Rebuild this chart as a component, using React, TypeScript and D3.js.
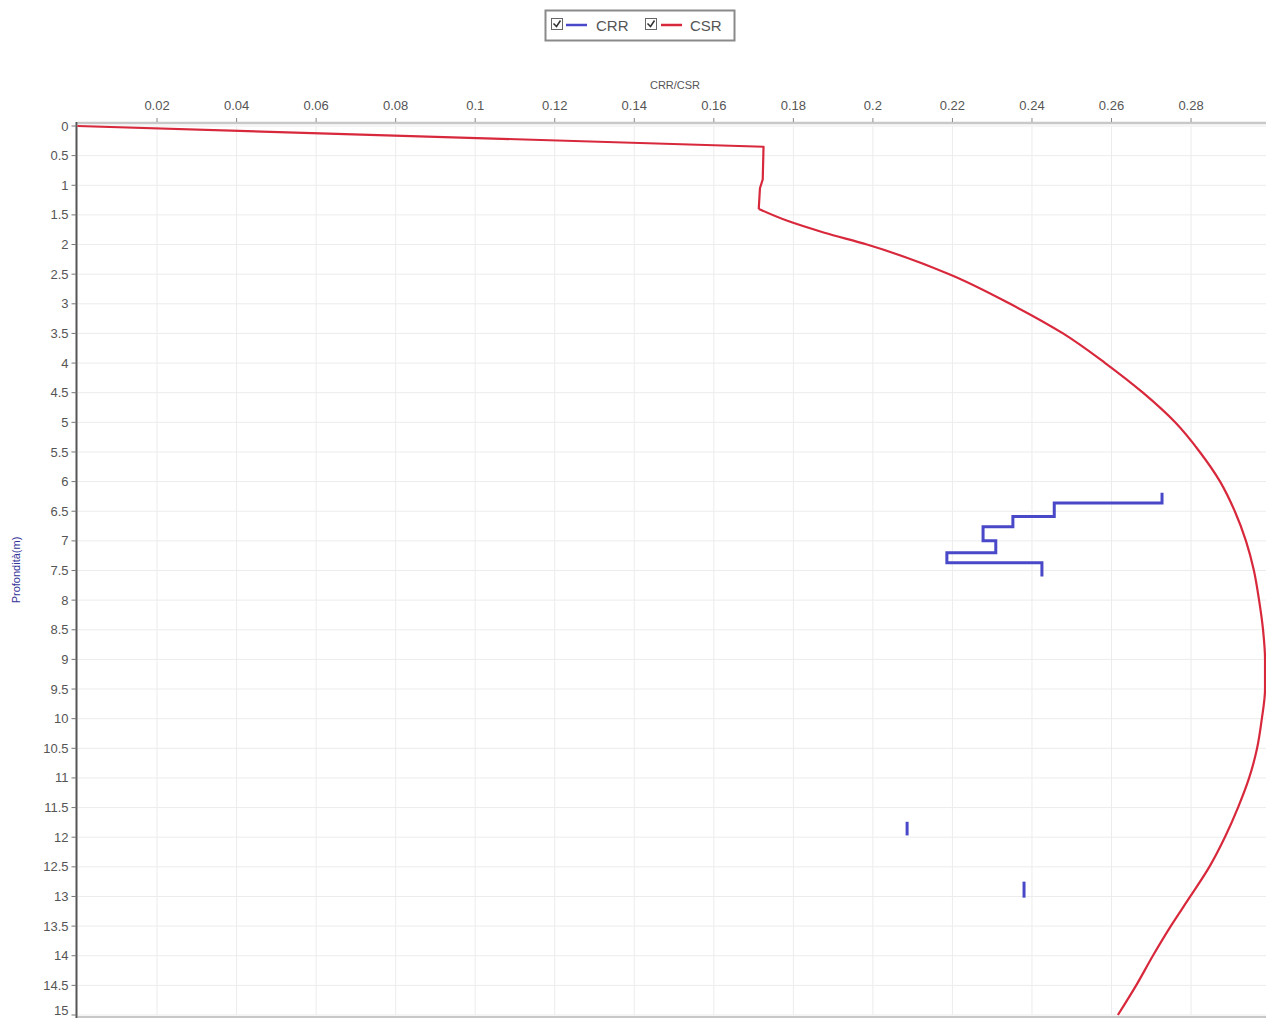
import React from "react";
import * as d3 from "d3";

// CSR curve: depth (m) and CSR value
const csrDepth = [0, 0.35, 0.9, 1.05, 1.4, 1.6, 1.8, 2.0, 2.5, 3.0, 3.5, 4.0, 4.5, 5.0, 5.5, 6.0, 6.5, 7.0, 7.5, 8.0, 8.5, 9.0, 9.5, 10.0, 10.5, 11.0, 11.5, 12.0, 12.5, 13.0, 13.5, 14.0, 14.5, 15.0];
const csrValue = [0, 0.1725, 0.1723, 0.1716, 0.1713, 0.1785, 0.1878, 0.1985, 0.2192, 0.2345, 0.2478, 0.2584, 0.2679, 0.276, 0.2822, 0.2873, 0.291, 0.2938, 0.2958, 0.2971, 0.2981, 0.2986, 0.2986, 0.2978, 0.2966, 0.2946, 0.2918, 0.2885, 0.2846, 0.2798, 0.2749, 0.2704, 0.2662, 0.2616];
const csrKinkIndex = 4; // straight segments up to 1.4 m, smooth curve after

// CRR layers: top depth, bottom depth, CRR value
const crrTop = [6.19, 6.36, 6.59, 6.76, 7.0, 7.2, 7.37, 11.74, 12.75];
const crrBottom = [6.36, 6.59, 6.76, 7.0, 7.2, 7.37, 7.6, 11.97, 13.02];
const crrValue = [0.2727, 0.2456, 0.2352, 0.2277, 0.2309, 0.2186, 0.2425, 0.2086, 0.238];

const xTicks = [0.02, 0.04, 0.06, 0.08, 0.1, 0.12, 0.14, 0.16, 0.18, 0.2, 0.22, 0.24, 0.26, 0.28];
const yTicks = d3.range(0, 15.001, 0.5);

const W = 1266;
const H = 1020;

export default function App() {
  const x = d3.scaleLinear().domain([0, 0.3]).range([77.5, 1270.6]);
  const y = d3.scaleLinear().domain([0, 15]).range([126, 1015]);

  const csrPts: [number, number][] = csrDepth.map((d, i) => [x(csrValue[i]), y(d)]);
  const csrPath1 = d3.line()(csrPts.slice(0, csrKinkIndex + 1)) || "";
  const csrPath2 = d3.line().curve(d3.curveMonotoneY)(csrPts.slice(csrKinkIndex)) || "";

  // Build CRR step segments (connected when layers are contiguous)
  const segments: [number, number][][] = [];
  let cur: [number, number][] = [];
  crrTop.forEach((t, i) => {
    if (i > 0 && Math.abs(t - crrBottom[i - 1]) > 1e-6) {
      segments.push(cur);
      cur = [];
    }
    cur.push([x(crrValue[i]), y(t)]);
    cur.push([x(crrValue[i]), y(crrBottom[i])]);
  });
  if (cur.length) segments.push(cur);
  const line = d3.line();

  const x0 = x(0);
  const xr = W;
  const yTop = y(0);
  const yBot = y(15);
  const font = "'Liberation Sans', Arial, sans-serif";

  return (
    <svg
      width={W}
      height={H}
      style={{ position: "absolute", left: 0, top: 0, background: "#fff" }}
      fontFamily={font}
    >
      <rect x={0} y={0} width={W} height={H} fill="#fff" />
      {/* grid */}
      {xTicks.map((t) => (
        <line key={"gx" + t} x1={x(t)} x2={x(t)} y1={yTop} y2={yBot} stroke="#ececec" strokeWidth={1} />
      ))}
      {yTicks.map((t) => (
        <line key={"gy" + t} x1={x0} x2={xr} y1={y(t)} y2={y(t)} stroke="#ececec" strokeWidth={1} />
      ))}

      {/* top axis */}
      <line x1={x0} x2={xr} y1={yTop - 3} y2={yTop - 3} stroke="#c8c8c8" strokeWidth={2.5} />
      {xTicks.map((t) => (
        <g key={"xt" + t}>
          <line x1={x(t)} x2={x(t)} y1={yTop - 8} y2={yTop - 4} stroke="#888" strokeWidth={1} />
          <text x={x(t)} y={yTop - 16} textAnchor="middle" fontSize={13} fill="#555">
            {String(t)}
          </text>
        </g>
      ))}
      <text x={675} y={89} textAnchor="middle" fontSize={11} fill="#555">
        CRR/CSR
      </text>

      {/* bottom border */}
      <line x1={x0} x2={xr} y1={yBot + 2} y2={yBot + 2} stroke="#c8c8c8" strokeWidth={2} />

      {/* left axis */}
      <line x1={x0 - 1} x2={x0 - 1} y1={yTop - 4} y2={yBot + 3} stroke="#555" strokeWidth={2} />
      {yTicks.map((t) => (
        <g key={"yt" + t}>
          <line x1={x0 - 6} x2={x0 - 1} y1={y(t)} y2={y(t)} stroke="#777" strokeWidth={1} />
          <text x={x0 - 9} y={Math.min(y(t), H - 10)} dy="0.35em" textAnchor="end" fontSize={13} fill="#555">
            {String(t)}
          </text>
        </g>
      ))}
      <text
        transform={`translate(20, ${570}) rotate(-90)`}
        textAnchor="middle"
        fontSize={11}
        fill="#333399"
      >
        Profondità(m)
      </text>

      {/* CSR */}
      <path d={csrPath1} fill="none" stroke="#d8283c" strokeWidth={2.2} strokeLinejoin="round" />
      <path d={csrPath2} fill="none" stroke="#d8283c" strokeWidth={2.2} strokeLinejoin="round" />

      {/* CRR */}
      {segments.map((s, i) => (
        <path key={"crr" + i} d={line(s) || ""} fill="none" stroke="#4848c8" strokeWidth={3} strokeLinejoin="miter" />
      ))}

      {/* legend */}
      <g>
        <rect x={545.5} y={10.5} width={189} height={30} fill="#fff" stroke="#8a8a8a" strokeWidth={2} />
        <rect x={551.5} y={18.5} width={11} height={11} fill="#fff" stroke="#666" strokeWidth={1} />
        <path d="M553.5,23.5 l3,3 l4,-6" fill="none" stroke="#333" strokeWidth={1.5} />
        <line x1={566} x2={587} y1={25} y2={25} stroke="#4848c8" strokeWidth={2.5} />
        <text x={596} y={31} fontSize={15} fill="#555">CRR</text>
        <rect x={645.5} y={18.5} width={11} height={11} fill="#fff" stroke="#666" strokeWidth={1} />
        <path d="M647.5,23.5 l3,3 l4,-6" fill="none" stroke="#333" strokeWidth={1.5} />
        <line x1={661} x2={682} y1={25} y2={25} stroke="#d8283c" strokeWidth={2.5} />
        <text x={690} y={31} fontSize={15} fill="#555">CSR</text>
      </g>
    </svg>
  );
}
